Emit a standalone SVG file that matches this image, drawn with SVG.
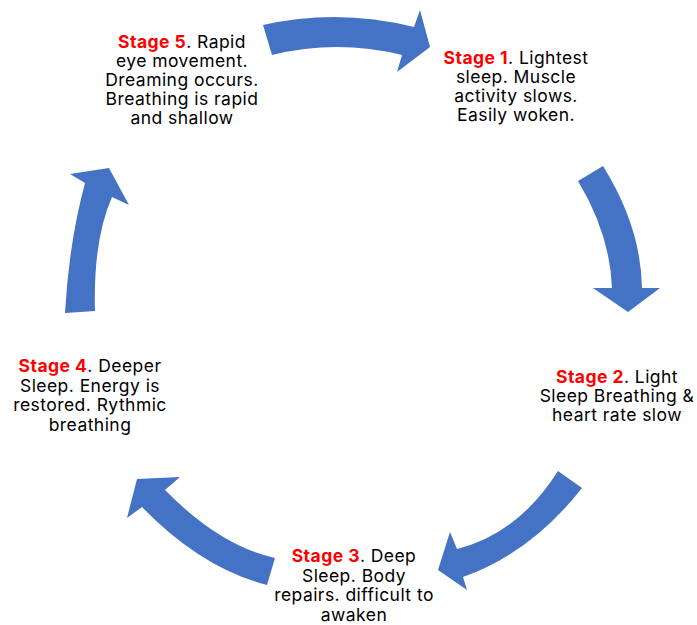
<svg xmlns="http://www.w3.org/2000/svg" width="697" height="625" viewBox="0 0 697 625">
<style>
.arrow{fill:#4472C4;stroke:none}
.lbl{font-family:Inter,"Noto Sans","Liberation Sans",sans-serif;font-size:17.5px;letter-spacing:0.45px;fill:#000;text-anchor:middle}
.st{fill:#FF0000;font-weight:bold}
</style>
<rect width="697" height="625" fill="#fff"/>
<g id="connectors">
<path class="arrow" d="M263,25 Q338,8 414,27 L420,10 L430,47 L397,72 L402,55 Q337,39 272,55 Z"/>
<path class="arrow" d="M603,166 Q641,227 642,288 L660,288 L628,312 L593,288 L612,288 Q610,234 578,181 Z"/>
<path class="arrow" d="M582,488 Q531,553 463,577 L467,590 L438,570 L450,532 L457,549 Q518,534 558,471 Z"/>
<path class="arrow" d="M267,585 Q201,568 142,507 L127,518 L137,479 L180,477 L165,490 Q220,546 275,558 Z"/>
<path class="arrow" d="M65,313 Q69,242 85,183 L70,174 L109,168 L129,205 L112,197 Q93,240 95,311 Z"/>
</g>
<g id="stage5"><text class="lbl"><tspan x="182" y="48"><tspan class="st">Stage 5</tspan>. Rapid</tspan><tspan x="182" y="67">eye movement.</tspan><tspan x="182" y="86">Dreaming occurs.</tspan><tspan x="182" y="105">Breathing is rapid</tspan><tspan x="182" y="124">and shallow</tspan></text></g>
<g id="stage1"><text class="lbl"><tspan x="516" y="64"><tspan class="st">Stage 1</tspan>. Lightest</tspan><tspan x="516" y="83">sleep. Muscle</tspan><tspan x="516" y="102">activity slows.</tspan><tspan x="516" y="121">Easily woken.</tspan></text></g>
<g id="stage2"><text class="lbl"><tspan x="617" y="383"><tspan class="st">Stage 2</tspan>. Light</tspan><tspan x="617" y="402">Sleep Breathing &amp;</tspan><tspan x="617" y="421">heart rate slow</tspan></text></g>
<g id="stage3"><text class="lbl"><tspan x="354" y="562"><tspan class="st">Stage 3</tspan>. Deep</tspan><tspan x="354" y="582">Sleep. Body</tspan><tspan x="354" y="601">repairs. difficult to</tspan><tspan x="354" y="621">awaken</tspan></text></g>
<g id="stage4"><text class="lbl"><tspan x="90" y="372"><tspan class="st">Stage 4</tspan>. Deeper</tspan><tspan x="90" y="392">Sleep. Energy is</tspan><tspan x="90" y="411">restored. Rythmic</tspan><tspan x="90" y="431">breathing</tspan></text></g>
</svg>
